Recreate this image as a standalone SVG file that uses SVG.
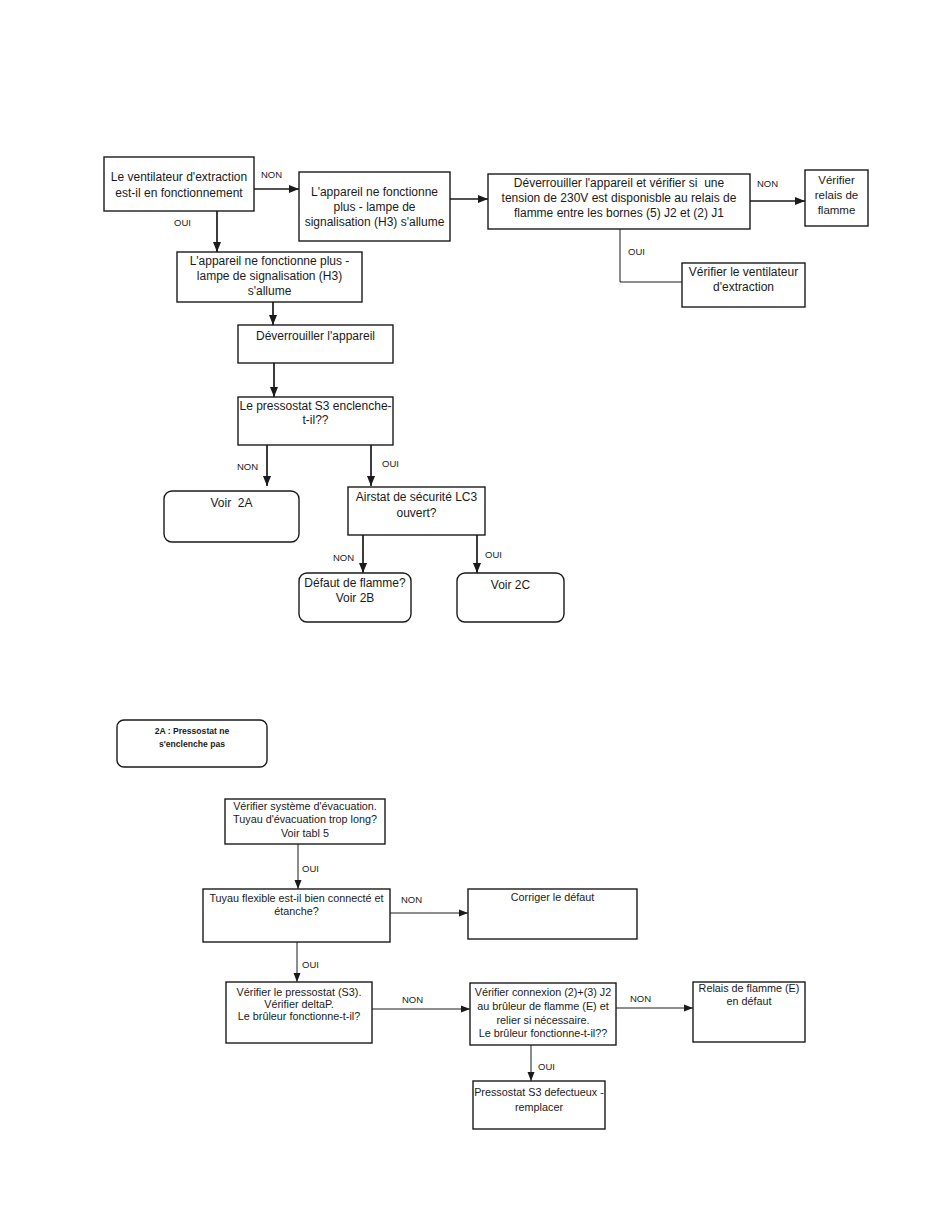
<svg xmlns="http://www.w3.org/2000/svg" width="950" height="1229" viewBox="0 0 950 1229">
<defs>
<style>
.b{fill:#fff;stroke:#1a1a1a;stroke-width:1.4}
.t{font-family:"Liberation Sans",Arial,sans-serif;font-size:12px;fill:#1a1a1a;text-anchor:middle}
.s{font-family:"Liberation Sans",Arial,sans-serif;font-size:10.8px;fill:#1a1a1a;text-anchor:middle}
.h{font-family:"Liberation Sans",Arial,sans-serif;font-size:8.6px;font-weight:bold;fill:#1a1a1a;text-anchor:middle}
.l{font-family:"Liberation Sans",Arial,sans-serif;font-size:9.5px;fill:#1a1a1a}
.c{fill:none;stroke:#1a1a1a;stroke-width:1.7}
.c2{fill:none;stroke:#1a1a1a;stroke-width:1}
</style>
<marker id="a" markerUnits="userSpaceOnUse" markerWidth="10" markerHeight="10" viewBox="0 0 10 10" refX="10" refY="5" orient="auto"><path d="M0,1 L10,5 L0,9 Z" fill="#1a1a1a"/></marker>
<marker id="a2" markerUnits="userSpaceOnUse" markerWidth="9" markerHeight="8" viewBox="0 0 9 8" refX="9" refY="4" orient="auto"><path d="M0,0.5 L9,4 L0,7.5 Z" fill="#1a1a1a"/></marker>
</defs>
<rect width="950" height="1229" fill="#fff"/>

<g id="connectors">
<line class="c" x1="254" y1="189" x2="299" y2="189" marker-end="url(#a)"/>
<line class="c" x1="217" y1="211" x2="217" y2="252" marker-end="url(#a)"/>
<line class="c" x1="450" y1="199" x2="488" y2="199" marker-end="url(#a)"/>
<line class="c" x1="750" y1="201" x2="805" y2="201" marker-end="url(#a)"/>
<polyline class="c2" points="620,229 620,282 682,282"/>
<line class="c" x1="273" y1="302" x2="273" y2="325" marker-end="url(#a)"/>
<line class="c" x1="274" y1="363" x2="274" y2="397" marker-end="url(#a)"/>
<line class="c" x1="267" y1="445" x2="267" y2="486" marker-end="url(#a)"/>
<line class="c" x1="371" y1="445" x2="371" y2="486" marker-end="url(#a)"/>
<line class="c" x1="363" y1="535" x2="363" y2="573" marker-end="url(#a)"/>
<line class="c" x1="477" y1="535" x2="477" y2="573" marker-end="url(#a)"/>
<line class="c2" x1="298" y1="844" x2="298" y2="889" marker-end="url(#a2)"/>
<line class="c2" x1="390" y1="913" x2="468" y2="913" marker-end="url(#a2)"/>
<line class="c2" x1="297" y1="942" x2="297" y2="982" marker-end="url(#a2)"/>
<line class="c2" x1="372" y1="1009" x2="470" y2="1009" marker-end="url(#a2)"/>
<line class="c2" x1="616" y1="1008" x2="693" y2="1008" marker-end="url(#a2)"/>
<line class="c2" x1="531" y1="1045" x2="531" y2="1081" marker-end="url(#a2)"/>
<text class="l" x="261" y="178">NON</text>
<text class="l" x="174" y="226">OUI</text>
<text class="l" x="757" y="187">NON</text>
<text class="l" x="628" y="255">OUI</text>
<text class="l" x="237" y="470">NON</text>
<text class="l" x="382" y="467">OUI</text>
<text class="l" x="333" y="561">NON</text>
<text class="l" x="485" y="558">OUI</text>
<text class="l" x="302" y="872">OUI</text>
<text class="l" x="401" y="903">NON</text>
<text class="l" x="302" y="968">OUI</text>
<text class="l" x="402" y="1003">NON</text>
<text class="l" x="630" y="1002">NON</text>
<text class="l" x="538" y="1070">OUI</text>
</g>

<g id="n1"><rect class="b" x="104" y="157" width="150" height="54"/>
<text class="t" x="179" y="181">Le ventilateur d'extraction</text>
<text class="t" x="179" y="197">est-il en fonctionnement</text></g>

<g id="n2"><rect class="b" x="299" y="172" width="151" height="69"/>
<text class="t" x="374.5" y="196">L'appareil ne fonctionne</text>
<text class="t" x="374.5" y="211">plus - lampe de</text>
<text class="t" x="374.5" y="226">signalisation (H3) s'allume</text></g>

<g id="n3"><rect class="b" x="488" y="174" width="262" height="55"/>
<text class="t" x="619" y="187" xml:space="preserve">Déverrouiller l'appareil et vérifier si  une</text>
<text class="t" x="619" y="202">tension de 230V est disponisble au relais de</text>
<text class="t" x="619" y="217">flamme entre les bornes (5) J2 et (2) J1</text></g>

<g id="n4"><rect class="b" x="805" y="170" width="63" height="56"/>
<text class="t" x="836.5" y="184" style="font-size:11.5px">Vérifier</text>
<text class="t" x="836.5" y="199" style="font-size:11.5px">relais de</text>
<text class="t" x="836.5" y="214" style="font-size:11.5px">flamme</text></g>

<g id="n5"><rect class="b" x="682" y="263" width="123" height="44"/>
<text class="t" x="743.5" y="276">Vérifier le ventilateur</text>
<text class="t" x="743.5" y="291">d'extraction</text></g>

<g id="n6"><rect class="b" x="177" y="252" width="185" height="50"/>
<text class="t" x="269.5" y="265">L'appareil ne fonctionne plus -</text>
<text class="t" x="269.5" y="280">lampe de signalisation (H3)</text>
<text class="t" x="269.5" y="295">s'allume</text></g>

<g id="n7"><rect class="b" x="238" y="325" width="155" height="38"/>
<text class="t" x="315.5" y="340">Déverrouiller l'appareil</text></g>

<g id="n8"><rect class="b" x="238" y="397" width="155" height="48"/>
<text class="t" x="315.5" y="410">Le pressostat S3 enclenche-</text>
<text class="t" x="315.5" y="424">t-il??</text></g>

<g id="n9"><rect class="b" x="164" y="491" width="135" height="51" rx="8"/>
<text class="t" x="231.5" y="507" xml:space="preserve">Voir  2A</text></g>

<g id="n10"><rect class="b" x="348" y="487" width="137" height="48"/>
<text class="t" x="416.5" y="501">Airstat de sécurité LC3</text>
<text class="t" x="416.5" y="517">ouvert?</text></g>

<g id="n11"><rect class="b" x="299" y="573" width="112" height="49" rx="8"/>
<text class="t" x="355" y="587">Défaut de flamme?</text>
<text class="t" x="355" y="602">Voir 2B</text></g>

<g id="n12"><rect class="b" x="457" y="573" width="107" height="49" rx="8"/>
<text class="t" x="510.5" y="589">Voir 2C</text></g>

<g id="n13"><rect class="b" x="117" y="720" width="150" height="47" rx="7"/>
<text class="h" x="192" y="734">2A : Pressostat ne</text>
<text class="h" x="192" y="747">s'enclenche pas</text></g>

<g id="n14"><rect class="b" x="225" y="799" width="160" height="45"/>
<text class="s" x="305" y="810">Vérifier système d'évacuation.</text>
<text class="s" x="305" y="823">Tuyau d'évacuation trop long?</text>
<text class="s" x="305" y="837">Voir tabl 5</text></g>

<g id="n15"><rect class="b" x="203" y="889" width="187" height="53"/>
<text class="s" x="296.5" y="902">Tuyau flexible est-il bien connecté et</text>
<text class="s" x="296.5" y="915">étanche?</text></g>

<g id="n16"><rect class="b" x="468" y="889" width="169" height="50"/>
<text class="s" x="552.5" y="901">Corriger le défaut</text></g>

<g id="n17"><rect class="b" x="226" y="982" width="146" height="61"/>
<text class="s" x="299" y="996">Vérifier le pressostat (S3).</text>
<text class="s" x="299" y="1008">Vérifier deltaP.</text>
<text class="s" x="299" y="1020">Le brûleur fonctionne-t-il?</text></g>

<g id="n18"><rect class="b" x="470" y="983" width="146" height="62"/>
<text class="s" x="543" y="996">Vérifier connexion (2)+(3) J2</text>
<text class="s" x="543" y="1010">au brûleur de flamme (E) et</text>
<text class="s" x="543" y="1024">relier si nécessaire.</text>
<text class="s" x="543" y="1037">Le brûleur fonctionne-t-il??</text></g>

<g id="n19"><rect class="b" x="693" y="982" width="112" height="60"/>
<text class="s" x="749" y="992">Relais de flamme (E)</text>
<text class="s" x="749" y="1005">en défaut</text></g>

<g id="n20"><rect class="b" x="473" y="1081" width="132" height="48"/>
<text class="s" x="539" y="1096">Pressostat S3 defectueux -</text>
<text class="s" x="539" y="1111">remplacer</text></g>
</svg>
